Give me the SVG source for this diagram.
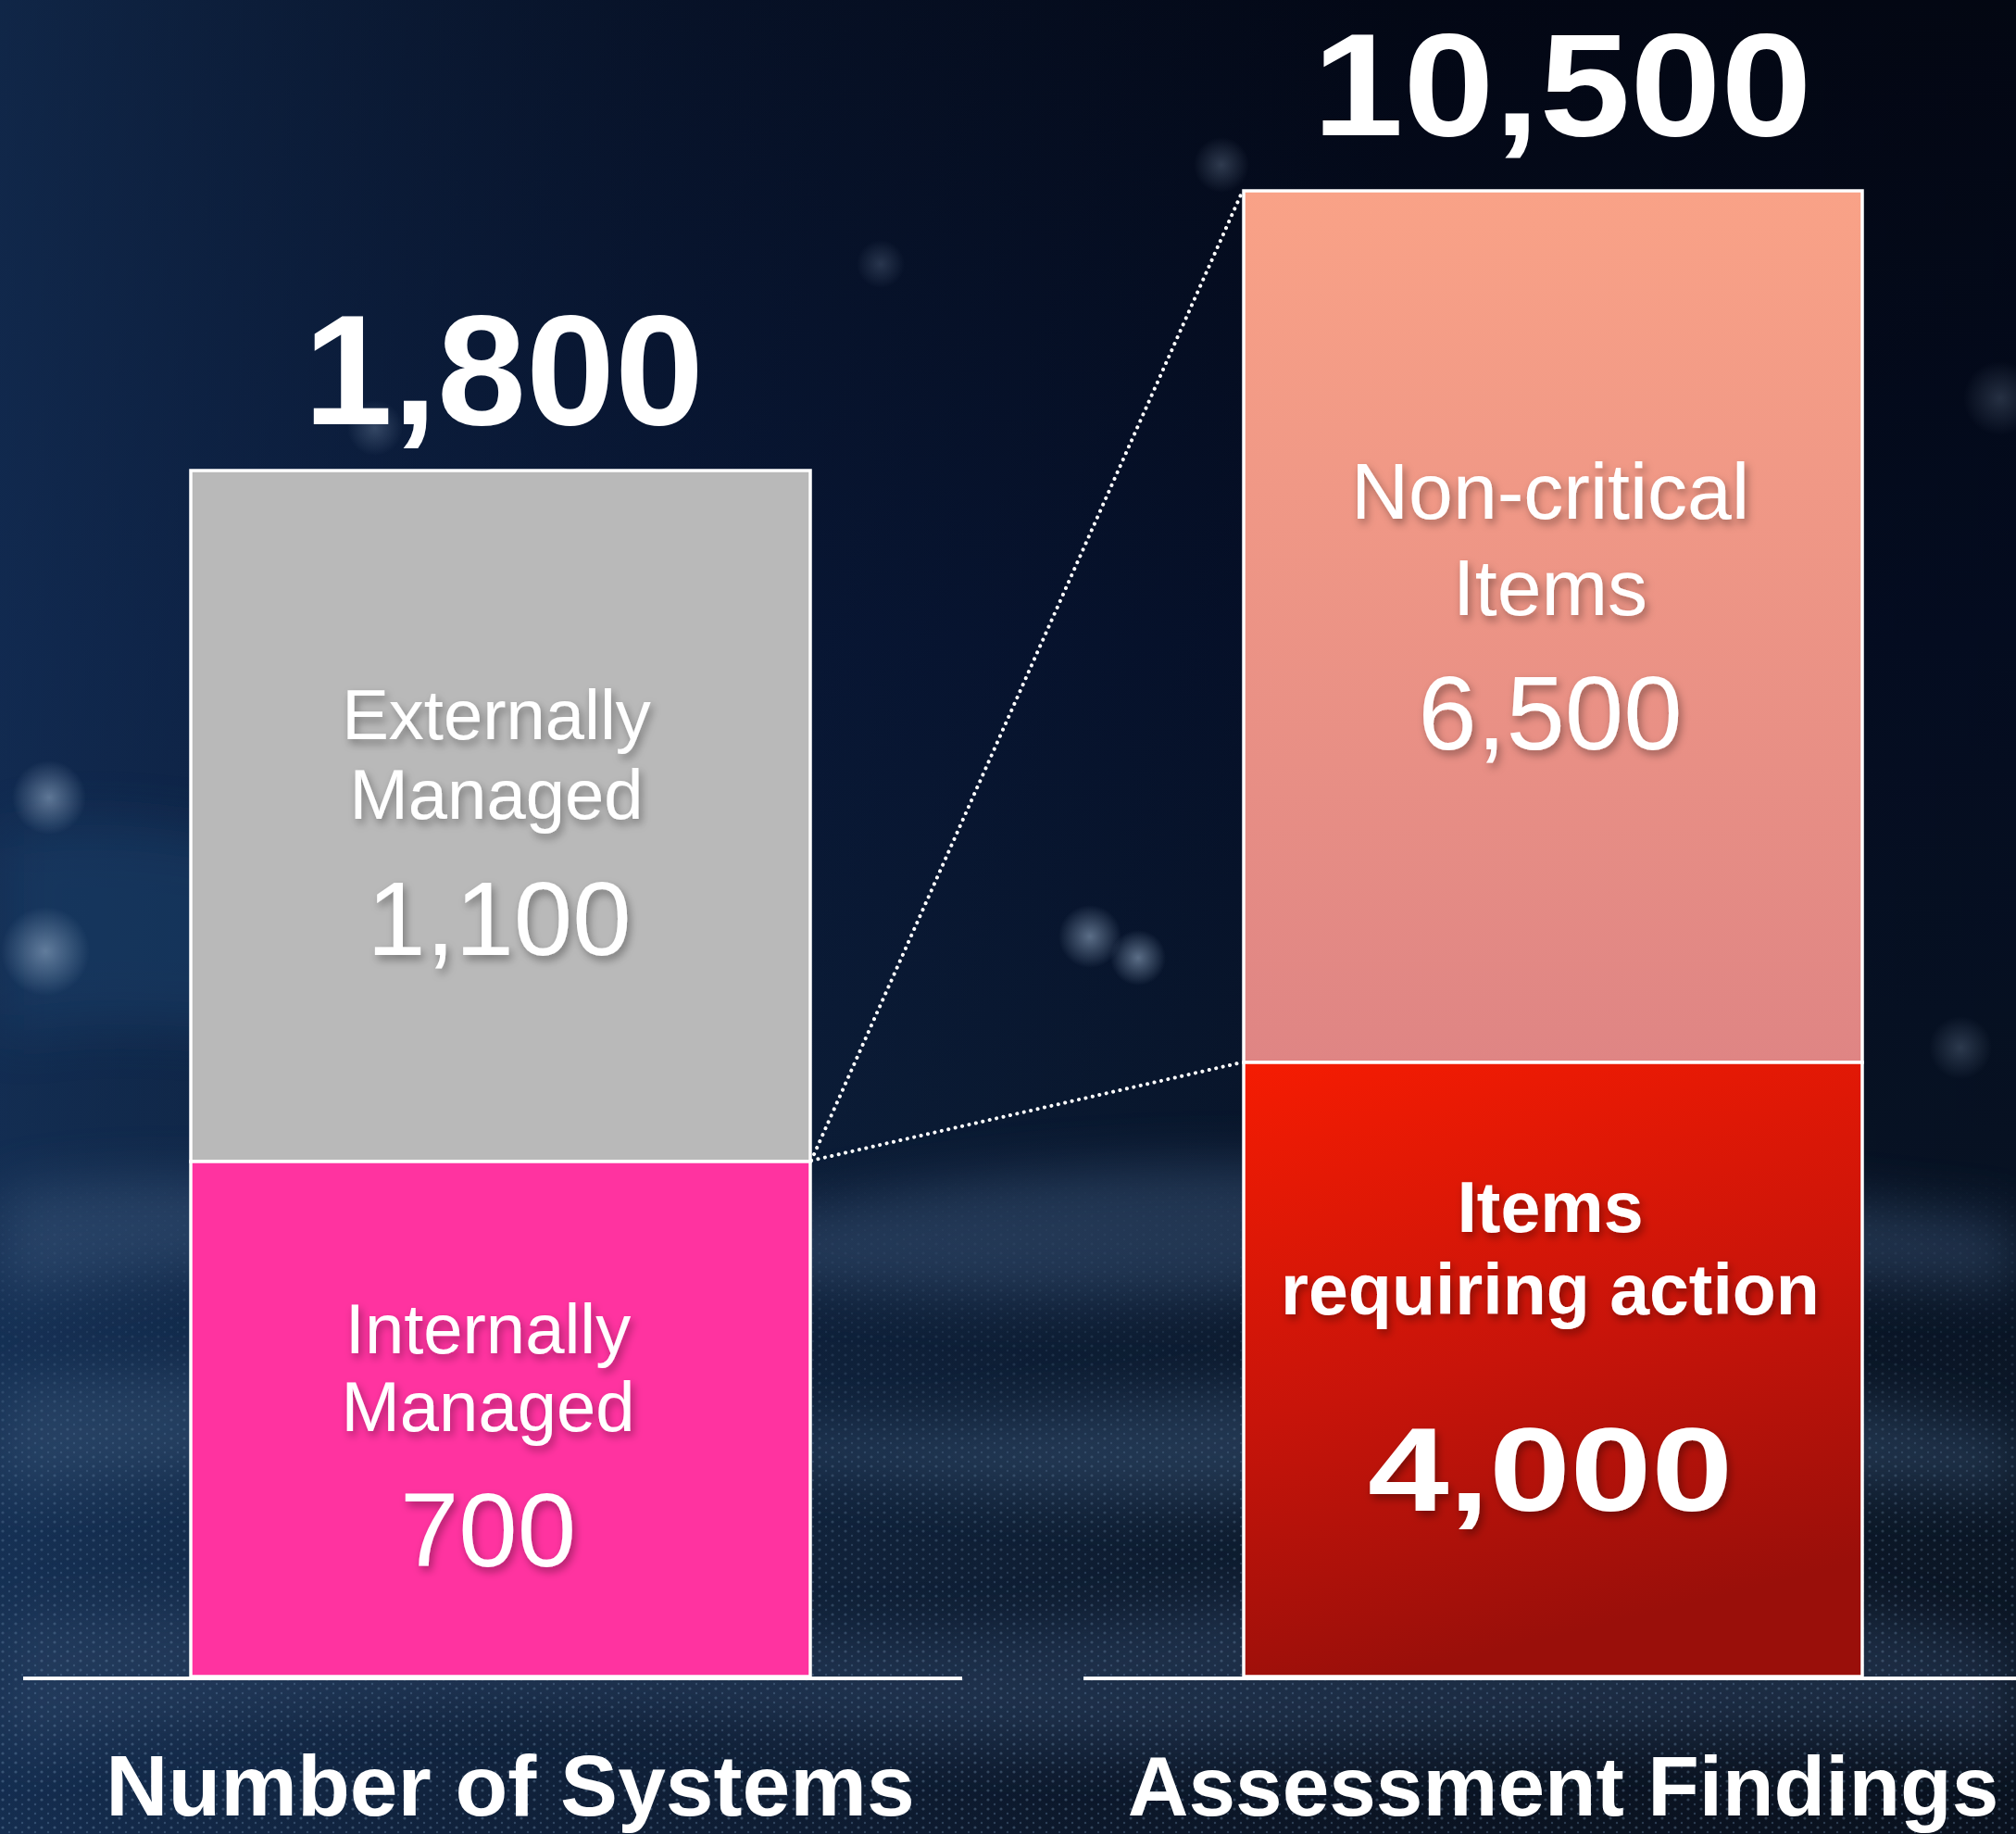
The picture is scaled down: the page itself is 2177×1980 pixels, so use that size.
<svg xmlns="http://www.w3.org/2000/svg" width="2177" height="1980" viewBox="0 0 2177 1980">
  <defs>
    <linearGradient id="bgV" x1="0" y1="0" x2="0" y2="1">
      <stop offset="0" stop-color="#040a1c"/>
      <stop offset="0.35" stop-color="#061230"/>
      <stop offset="0.62" stop-color="#0a1a34"/>
      <stop offset="0.8" stop-color="#12243c"/>
      <stop offset="1" stop-color="#0e1a2e"/>
    </linearGradient>
    <linearGradient id="bgH" x1="0" y1="0" x2="1" y2="0">
      <stop offset="0" stop-color="#1a3d6a" stop-opacity="0.55"/>
      <stop offset="0.35" stop-color="#102848" stop-opacity="0.25"/>
      <stop offset="0.7" stop-color="#000000" stop-opacity="0.25"/>
      <stop offset="1" stop-color="#000000" stop-opacity="0.35"/>
    </linearGradient>
    <radialGradient id="glow" cx="0.5" cy="0.5" r="0.5">
      <stop offset="0" stop-color="#9fb6d0" stop-opacity="0.55"/>
      <stop offset="1" stop-color="#9fb6d0" stop-opacity="0"/>
    </radialGradient>
    <linearGradient id="nonCrit" x1="0" y1="0" x2="0" y2="1">
      <stop offset="0" stop-color="#f9a287"/>
      <stop offset="1" stop-color="#df8584"/>
    </linearGradient>
    <linearGradient id="action" x1="0" y1="0" x2="0.25" y2="1">
      <stop offset="0" stop-color="#f51c02"/>
      <stop offset="0.55" stop-color="#c8140a"/>
      <stop offset="1" stop-color="#9a0f0a"/>
    </linearGradient>
    <pattern id="dots" width="14" height="10" patternUnits="userSpaceOnUse">
      <circle cx="3" cy="3" r="1.6" fill="#8fb0d0"/>
      <circle cx="10" cy="8" r="1.2" fill="#7fa0c4"/>
    </pattern>
    <linearGradient id="dotFade" x1="0" y1="0" x2="0" y2="1">
      <stop offset="0" stop-color="#fff" stop-opacity="0"/>
      <stop offset="0.45" stop-color="#fff" stop-opacity="0.35"/>
      <stop offset="1" stop-color="#fff" stop-opacity="0.5"/>
    </linearGradient>
    <mask id="dotMask">
      <rect x="0" y="1250" width="2177" height="730" fill="url(#dotFade)"/>
    </mask>
    <filter id="blurBig" x="-20%" y="-50%" width="140%" height="200%">
      <feGaussianBlur stdDeviation="28"/>
    </filter>
    <filter id="shadow" x="-10%" y="-20%" width="120%" height="150%">
      <feDropShadow dx="3" dy="5" stdDeviation="5" flood-color="#000000" flood-opacity="0.35"/>
    </filter>
    <style>
      .seg { stroke: #ffffff; stroke-width: 3.5; }
      .lbl { font-family: "Liberation Sans", Arial, sans-serif; fill: #ffffff; text-anchor: middle; filter: url(#shadow); }
      .lblB { font-family: "Liberation Sans", Arial, sans-serif; fill: #ffffff; text-anchor: middle; font-weight: bold; filter: url(#shadow); }
      .total { font-family: "Liberation Sans", Arial, sans-serif; fill: #ffffff; text-anchor: middle; font-weight: bold; }
      .axis { stroke: #ffffff; stroke-width: 4; }
      .conn { stroke: #ffffff; stroke-width: 4; stroke-dasharray: 0.1 7.5; stroke-linecap: round; fill: none; }
    </style>
  </defs>

  <!-- background -->
  <g id="background">
    <rect x="0" y="0" width="2177" height="1980" fill="url(#bgV)"/>
    <rect x="0" y="0" width="2177" height="1980" fill="url(#bgH)"/>
    <g filter="url(#blurBig)" opacity="0.45">
      <path d="M0 1290 C 300 1230, 600 1360, 900 1300 S 1500 1240, 2177 1320 L 2177 1390 C 1700 1360, 1300 1430, 900 1390 S 300 1350, 0 1400 Z" fill="#3f5c80"/>
      <path d="M0 1500 C 400 1450, 700 1580, 1100 1530 S 1800 1470, 2177 1550 L 2177 1610 C 1800 1580, 1400 1650, 1000 1600 S 400 1570, 0 1610 Z" fill="#3a5678"/>
      <path d="M0 1750 C 400 1700, 800 1810, 1200 1750 S 1900 1710, 2177 1780 L 2177 1890 C 1800 1850, 1300 1920, 900 1870 S 300 1850, 0 1890 Z" fill="#324a6a"/>
      <path d="M0 900 C 200 860, 350 960, 500 920 L 500 1100 C 300 1140, 150 1080, 0 1120 Z" fill="#1f4470"/>
    </g>
    <rect x="0" y="1250" width="2177" height="730" fill="url(#dots)" mask="url(#dotMask)" opacity="0.6"/>
    <g fill="url(#glow)">
      <circle cx="53" cy="861" r="40"/>
      <circle cx="49" cy="1027" r="48"/>
      <circle cx="1177" cy="1011" r="34"/>
      <circle cx="1229" cy="1034" r="30"/>
      <circle cx="1319" cy="178" r="30" opacity="0.5"/>
      <circle cx="951" cy="285" r="26" opacity="0.4"/>
      <circle cx="2117" cy="1131" r="34" opacity="0.45"/>
      <circle cx="405" cy="462" r="30" opacity="0.5"/>
      <circle cx="2160" cy="430" r="40" opacity="0.4"/>
    </g>
  </g>

  <!-- axes -->
  <g id="axes">
    <line class="axis" x1="25" y1="1812" x2="1039" y2="1812"/>
    <line class="axis" x1="1170" y1="1812" x2="2177" y2="1812"/>
  </g>

  <!-- connectors -->
  <g id="connectors">
    <line class="conn" x1="876" y1="1253" x2="1341" y2="208"/>
    <line class="conn" x1="876" y1="1253" x2="1341" y2="1147"/>
  </g>

  <!-- left bar -->
  <g id="externally-managed">
    <rect class="seg" x="206" y="508" width="669" height="746" fill="#b9b9b9"/>
    <text class="lbl" x="536" y="798" font-size="76">Externally</text>
    <text class="lbl" x="536" y="884" font-size="76">Managed</text>
    <text class="lbl" x="539" y="1031" font-size="114">1,100</text>
  </g>
  <g id="internally-managed">
    <rect class="seg" x="206" y="1254" width="669" height="556" fill="#ff33a0"/>
    <text class="lbl" x="527" y="1461" font-size="76">Internally</text>
    <text class="lbl" x="527" y="1545" font-size="76">Managed</text>
    <text class="lbl" x="527" y="1691" font-size="114">700</text>
  </g>
  <g id="total-systems">
    <text class="total" x="544" y="458" font-size="168" textLength="432" lengthAdjust="spacingAndGlyphs">1,800</text>
  </g>

  <!-- right bar -->
  <g id="non-critical-items">
    <rect class="seg" x="1343" y="206" width="668" height="941" fill="url(#nonCrit)"/>
    <text class="lbl" x="1674" y="560" font-size="86">Non-critical</text>
    <text class="lbl" x="1674" y="664" font-size="86">Items</text>
    <text class="lbl" x="1674" y="809" font-size="114">6,500</text>
  </g>
  <g id="items-requiring-action">
    <rect class="seg" x="1343" y="1147" width="668" height="663" fill="url(#action)"/>
    <text class="lblB" x="1674" y="1330" font-size="77">Items</text>
    <text class="lblB" x="1674" y="1419" font-size="77">requiring action</text>
    <text class="lblB" x="1674" y="1631" font-size="128" textLength="394" lengthAdjust="spacingAndGlyphs">4,000</text>
  </g>
  <g id="total-findings">
    <text class="total" x="1687" y="146" font-size="158" textLength="539" lengthAdjust="spacingAndGlyphs">10,500</text>
  </g>

  <!-- category labels -->
  <g id="label-systems">
    <text class="total" x="551" y="1960" font-size="93">Number of Systems</text>
  </g>
  <g id="label-findings">
    <text class="total" x="1688" y="1960" font-size="91">Assessment Findings</text>
  </g>
</svg>
